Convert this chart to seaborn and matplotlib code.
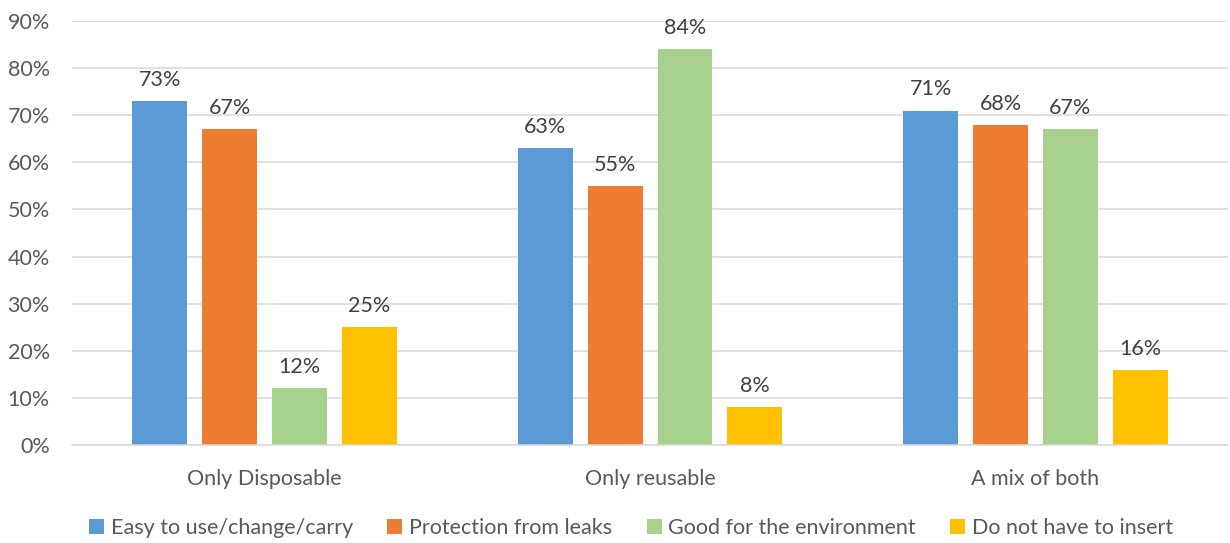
import matplotlib
matplotlib.use("Agg")
import matplotlib.pyplot as plt
import seaborn as sns
import pandas as pd
from matplotlib.ticker import PercentFormatter

# Survey results: share of respondents choosing each reason, by product type used
groups = ["Only Disposable", "Only reusable", "A mix of both"]
reasons = ["Easy to use/change/carry", "Protection from leaks",
           "Good for the environment", "Do not have to insert"]
easy_to_use = [73, 63, 71]
leak_protection = [67, 55, 68]
environment = [12, 84, 67]
no_insert = [25, 8, 16]
palette = ["#5B9BD5", "#ED7D31", "#A9D18E", "#FFC000"]
y_ticks = [0, 10, 20, 30, 40, 50, 60, 70, 80, 90]

series = [easy_to_use, leak_protection, environment, no_insert]
rows = []
for reason, vals in zip(reasons, series):
    for g, v in zip(groups, vals):
        rows.append({"group": g, "reason": reason, "value": v})
df = pd.DataFrame(rows)

sns.set_theme(style="white")
plt.rcParams["font.family"] = ["Lato", "DejaVu Sans"]
text_color = "#595959"
fs = 15.5

fig = plt.figure(figsize=(12.3, 5.43), dpi=100)
ax = fig.add_axes([0.0585, 0.1805, 0.94, 0.7808])

sns.barplot(data=df, x="group", y="value", hue="reason", order=groups,
            hue_order=reasons, palette=palette, width=0.725, gap=0.214,
            saturation=1, linewidth=0, ax=ax, legend=True)

for container in ax.containers:
    ax.bar_label(container, labels=[f"{v:.0f}%" for v in container.datavalues],
                 padding=8, fontsize=fs, color="#404040")

ax.set_ylim(0, 90)
ax.set_xlim(-0.5, 2.5)
ax.set_yticks(y_ticks)
ax.yaxis.set_major_formatter(PercentFormatter(decimals=0))
ax.grid(axis="y", color="#D9D9D9", linewidth=1.1)
ax.set_axisbelow(True)
for side in ["top", "right", "left"]:
    ax.spines[side].set_visible(False)
ax.spines["bottom"].set_color("#D9D9D9")
ax.spines["bottom"].set_linewidth(1.1)
ax.tick_params(axis="both", length=0, labelsize=fs, labelcolor=text_color)
ax.tick_params(axis="x", pad=17)
ax.tick_params(axis="y", pad=16)
ax.set_xlabel("")
ax.set_ylabel("")

handles, labels = ax.get_legend_handles_labels()
ax.get_legend().remove()
leg = fig.legend(handles, labels, loc="center", bbox_to_anchor=(0.513, 0.027),
                 ncol=4, frameon=False, fontsize=fs, handlelength=0.7,
                 handleheight=0.7, handletextpad=0.3, columnspacing=1.6)
for t in leg.get_texts():
    t.set_color(text_color)

fig.savefig("out.png", dpi=100)
